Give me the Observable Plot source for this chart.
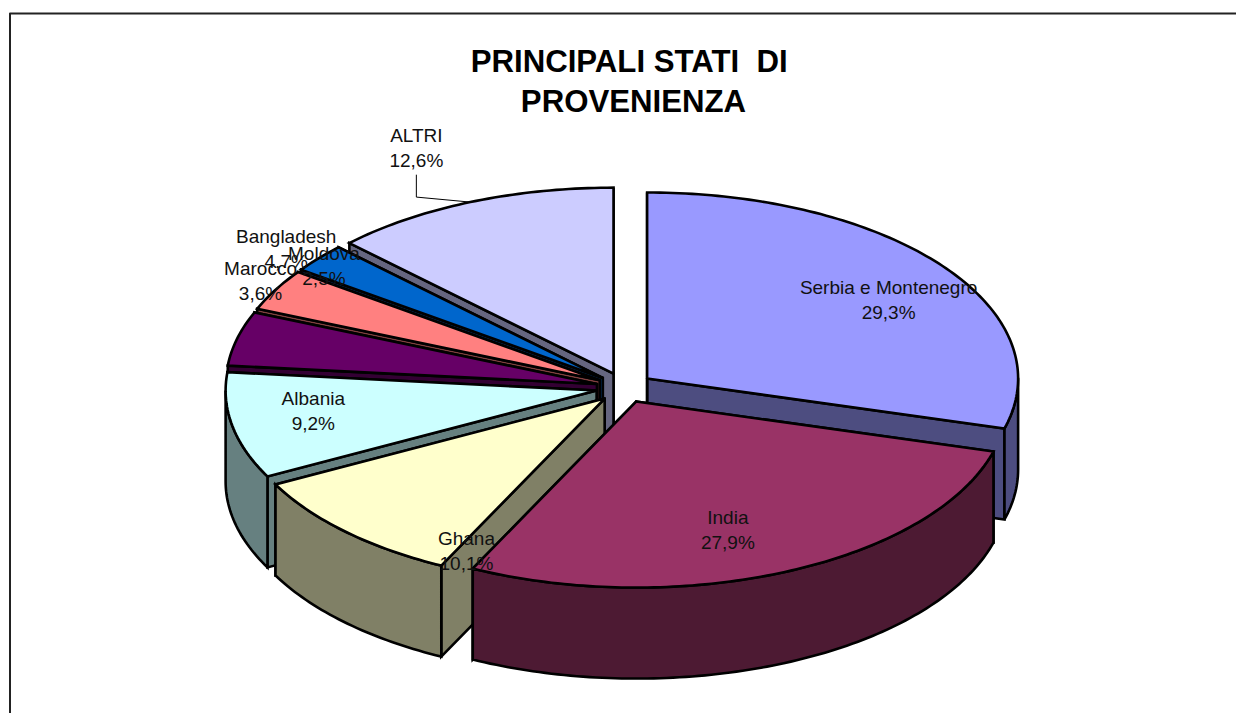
<!DOCTYPE html>
<html>
<head>
<meta charset="utf-8">
<style>html,body{margin:0;padding:0;background:#fff}svg{display:block}</style>
<script src="https://cdn.jsdelivr.net/npm/d3@7"></script>
<script src="https://cdn.jsdelivr.net/npm/@observablehq/plot@0.6"></script>
</head>
<body>
<script>
// Data
const names = ["Serbia e Montenegro", "India", "Ghana", "Albania", "Bangladesh", "Marocco", "Moldova", "ALTRI"];
const shares = [29.3, 27.9, 10.1, 9.2, 4.7, 3.6, 2.5, 12.6];
const topColors = ["#9999FF", "#993366", "#FFFFCC", "#CCFFFF", "#660066", "#FF8080", "#0066CC", "#CCCCFF"];
const wallColors = ["#4D4D80", "#4D1A33", "#808066", "#668080", "#330033", "#804040", "#003366", "#666680"];
const titleLines = "PRINCIPALI STATI  DI \nPROVENIENZA";

// Layout
const W = 1236, H = 713;
const pie = {cx: 624, cy: 387.2, rx: 371, ry: 186, depth: 91, ex: 28.4, ey: 15.2};
const paintOrder = [7, 6, 5, 4, 3, 0, 2, 1];
const labelNudge = [[-54, 32], [-60, -43], [121, 18], [81, -16], [49, -91], [-15, -10], [5, 6], [-54, -56]];

const total = d3.sum(shares);
const cum = d3.cumsum(shares);
const rad = d => d * Math.PI / 180;
const slices = shares.map((v, i) => {
  const a0 = (i ? cum[i - 1] : 0) / total * 360, a1 = cum[i] / total * 360, mid = (a0 + a1) / 2;
  const ax = pie.cx + pie.ex * Math.sin(rad(mid)), ay = pie.cy - pie.ey * Math.cos(rad(mid));
  const pt = t => [ax + pie.rx * Math.sin(rad(t)), ay - pie.ry * Math.cos(rad(t))];
  return {i, a0, a1, mid, ax, ay, pt};
});
const arc = (s, from, to) => {
  const pts = [];
  const n = Math.max(2, Math.ceil((to - from) / 1));
  for (let k = 0; k <= n; ++k) pts.push(s.pt(from + (to - from) * k / n));
  return pts;
};

const rows = [];
let faceId = 0;
const addFace = (pts, color) => {
  const id = faceId++;
  [...pts, pts[0]].forEach(([x, y]) => rows.push({id, x, y, color}));
};
for (const i of paintOrder) {
  const s = slices[i], wall = wallColors[i], d = pie.depth;
  for (const t of [s.a1, s.a0]) {
    const [ex, ey] = s.pt(t);
    addFace([[s.ax, s.ay], [ex, ey], [ex, ey + d], [s.ax, s.ay + d]], wall);
  }
  const from = Math.max(s.a0, 90), to = Math.min(s.a1, 270);
  if (to > from) {
    const rim = arc(s, from, to);
    addFace([...rim, ...rim.slice().reverse().map(([x, y]) => [x, y + d])], wall);
  }
  addFace([[s.ax, s.ay], ...arc(s, s.a0, s.a1)], topColors[i]);
}

const fmt = v => v.toFixed(1).replace(".", ",") + "%";
const labels = slices.map(s => {
  const [rx, ry] = s.pt(s.mid);
  return {
    text: names[s.i] + "\n" + fmt(shares[s.i]),
    x: rx + labelNudge[s.i][0],
    y: ry + labelNudge[s.i][1],
    rx, ry
  };
});
const altri = labels[7];
const leader = [
  {x: altri.x, y: altri.y + 29},
  {x: altri.x, y: altri.ry - 5},
  {x: altri.rx, y: altri.ry}
];
const frame = [{x: W, y: 13}, {x: 9.5, y: 13}, {x: 9.5, y: H}];

const chart = Plot.plot({
  width: W,
  height: H,
  margin: 0,
  x: {type: "linear", domain: [0, W], range: [0, W], axis: null},
  y: {type: "linear", domain: [0, H], range: [0, H], axis: null},
  color: {type: "identity"},
  style: {background: "#fff", fontFamily: "'Liberation Sans', Arial, sans-serif"},
  marks: [
    Plot.line(frame, {x: "x", y: "y", stroke: "#222", strokeWidth: 2}),
    Plot.line(rows, {
      x: "x", y: "y", z: "id", fill: "color", stroke: "#000", strokeWidth: 2.6,
      curve: "linear", strokeLinejoin: "miter", strokeMiterlimit: 4
    }),
    Plot.line(leader, {x: "x", y: "y", stroke: "#000", strokeWidth: 1}),
    Plot.text(labels, {
      x: "x", y: "y", text: "text", fontSize: 19, lineHeight: 1.316,
      fill: "#111", textAnchor: "middle"
    }),
    Plot.text([titleLines], {
      x: () => 633, y: () => 79, text: d => d, fontSize: 31.2, fontWeight: "bold",
      lineHeight: 1.27, fill: "#000", textAnchor: "middle"
    })
  ]
});
document.body.appendChild(chart);
</script>
</body>
</html>
